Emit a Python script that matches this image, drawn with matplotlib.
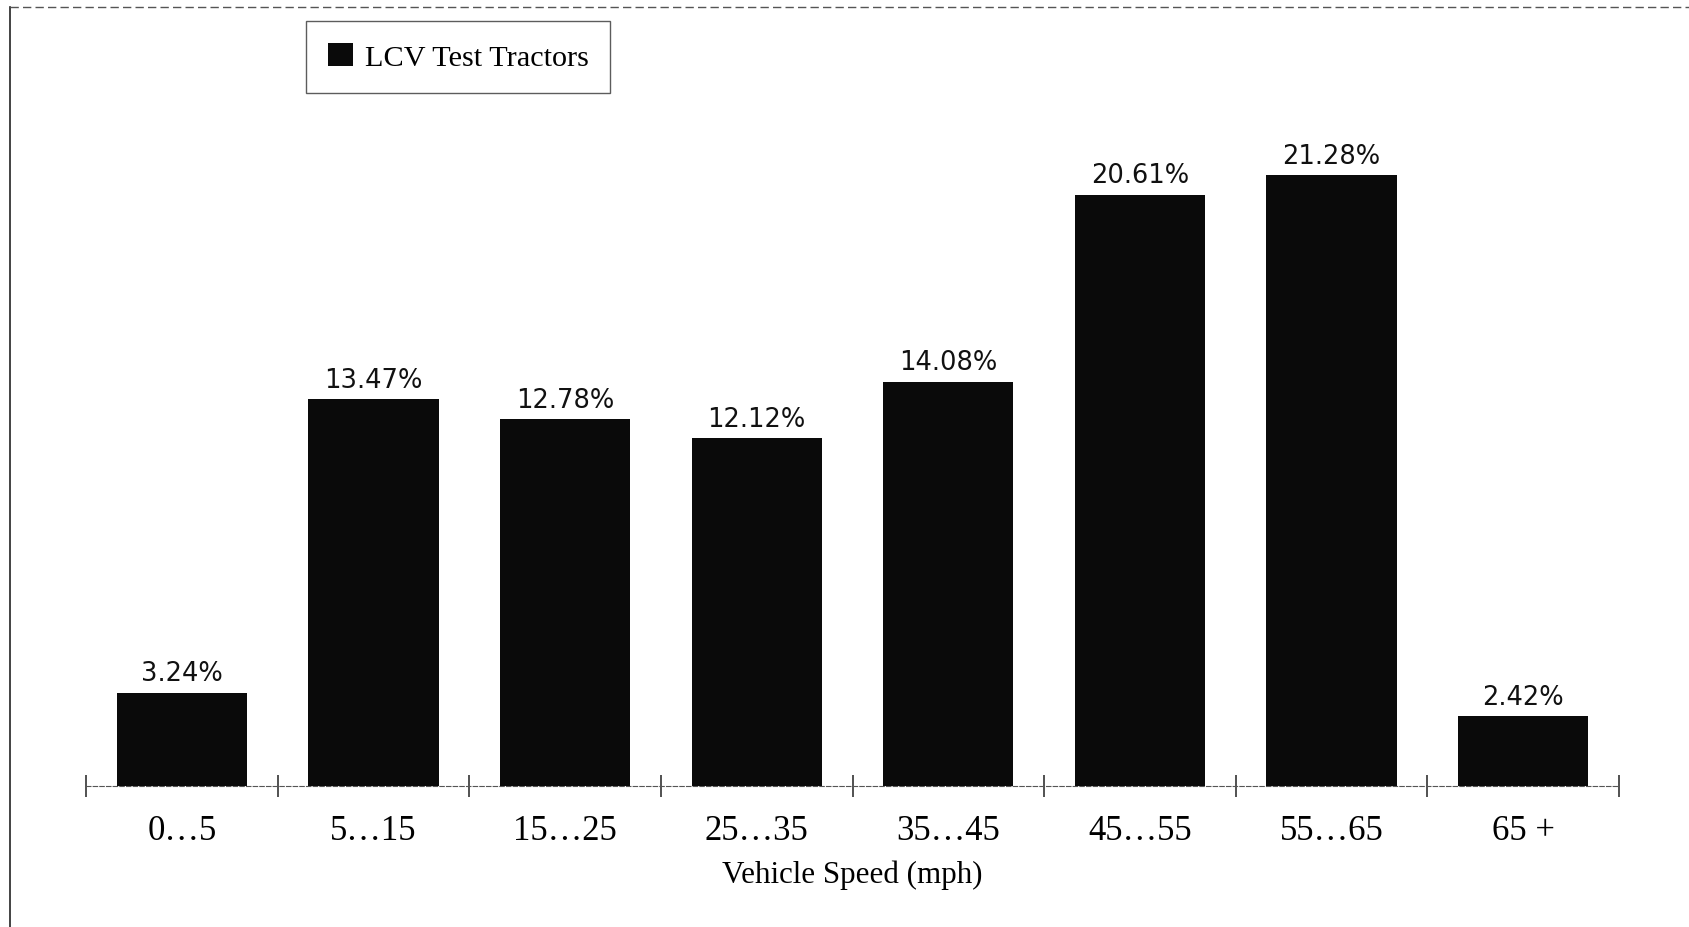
import matplotlib.pyplot as plt
from matplotlib.lines import Line2D
import numpy as np

# share of driving time in each speed band
speed_bands = ["0\u20265", "5\u202615", "15\u202625", "25\u202635",
               "35\u202645", "45\u202655", "55\u202665", "65 +"]
percent_time = [3.24, 13.47, 12.78, 12.12, 14.08, 20.61, 21.28, 2.42]
series_name = "LCV Test Tractors"

serif = "Liberation Serif"

fig = plt.figure(figsize=(16.89, 9.28), dpi=100)
ax = fig.add_axes([0.0509, 0.1520, 0.9077, 0.838])

x = np.arange(len(speed_bands))
bars = ax.bar(x, percent_time, width=0.68, color="#0a0a0a",
              label=series_name, zorder=3)

for xi, v in zip(x, percent_time):
    ax.annotate(f"{v:.2f}%", xy=(xi, v), xytext=(0, 9),
                textcoords="offset points", ha="center", va="baseline",
                fontsize=18.5, family="DejaVu Sans", color="#111111")

ax.set_xlim(-0.5, len(speed_bands) - 0.5)
ax.set_ylim(0, 27.1)
ax.set_yticks([])

# labels sit under the bars, tick marks on the band edges
ax.set_xticks(x)
ax.set_xticklabels(speed_bands, fontsize=25, family=serif)
ax.tick_params(axis="x", which="major", length=0, pad=20)
ax.set_xticks(np.arange(len(speed_bands) + 1) - 0.5, minor=True)
ax.tick_params(axis="x", which="minor", direction="inout", length=15.5,
               width=1.1, color="#222222")

for side in ["top", "right", "left"]:
    ax.spines[side].set_visible(False)
ax.spines["bottom"].set_color("#555555")
ax.spines["bottom"].set_linewidth(0.8)
ax.spines["bottom"].set_linestyle((0, (4, 2)))

ax.set_xlabel("Vehicle Speed (mph)", fontsize=22.3, family=serif, labelpad=9)

leg = ax.legend(loc="upper left", bbox_to_anchor=(306 / 1689, 1 - 22 / 928),
                bbox_transform=fig.transFigure, borderaxespad=0,
                prop={"family": serif, "size": 21.8}, fancybox=False,
                frameon=True, handlelength=0.82, handleheight=0.82,
                handletextpad=0.4, borderpad=0.72)
leg.get_frame().set_edgecolor("#333333")
leg.get_frame().set_linewidth(1.0)

# page frame: solid rule on the left, faint dashed rule across the top
fig.add_artist(Line2D([10 / 1689, 10 / 1689], [0, 1 - 8 / 928],
                      transform=fig.transFigure, color="#222222", lw=1.2))
fig.add_artist(Line2D([10 / 1689, 1], [1 - 8 / 928, 1 - 8 / 928],
                      transform=fig.transFigure, color="#555555", lw=1.0,
                      linestyle=(0, (6, 3))))

fig.savefig("out.png", dpi=100)
